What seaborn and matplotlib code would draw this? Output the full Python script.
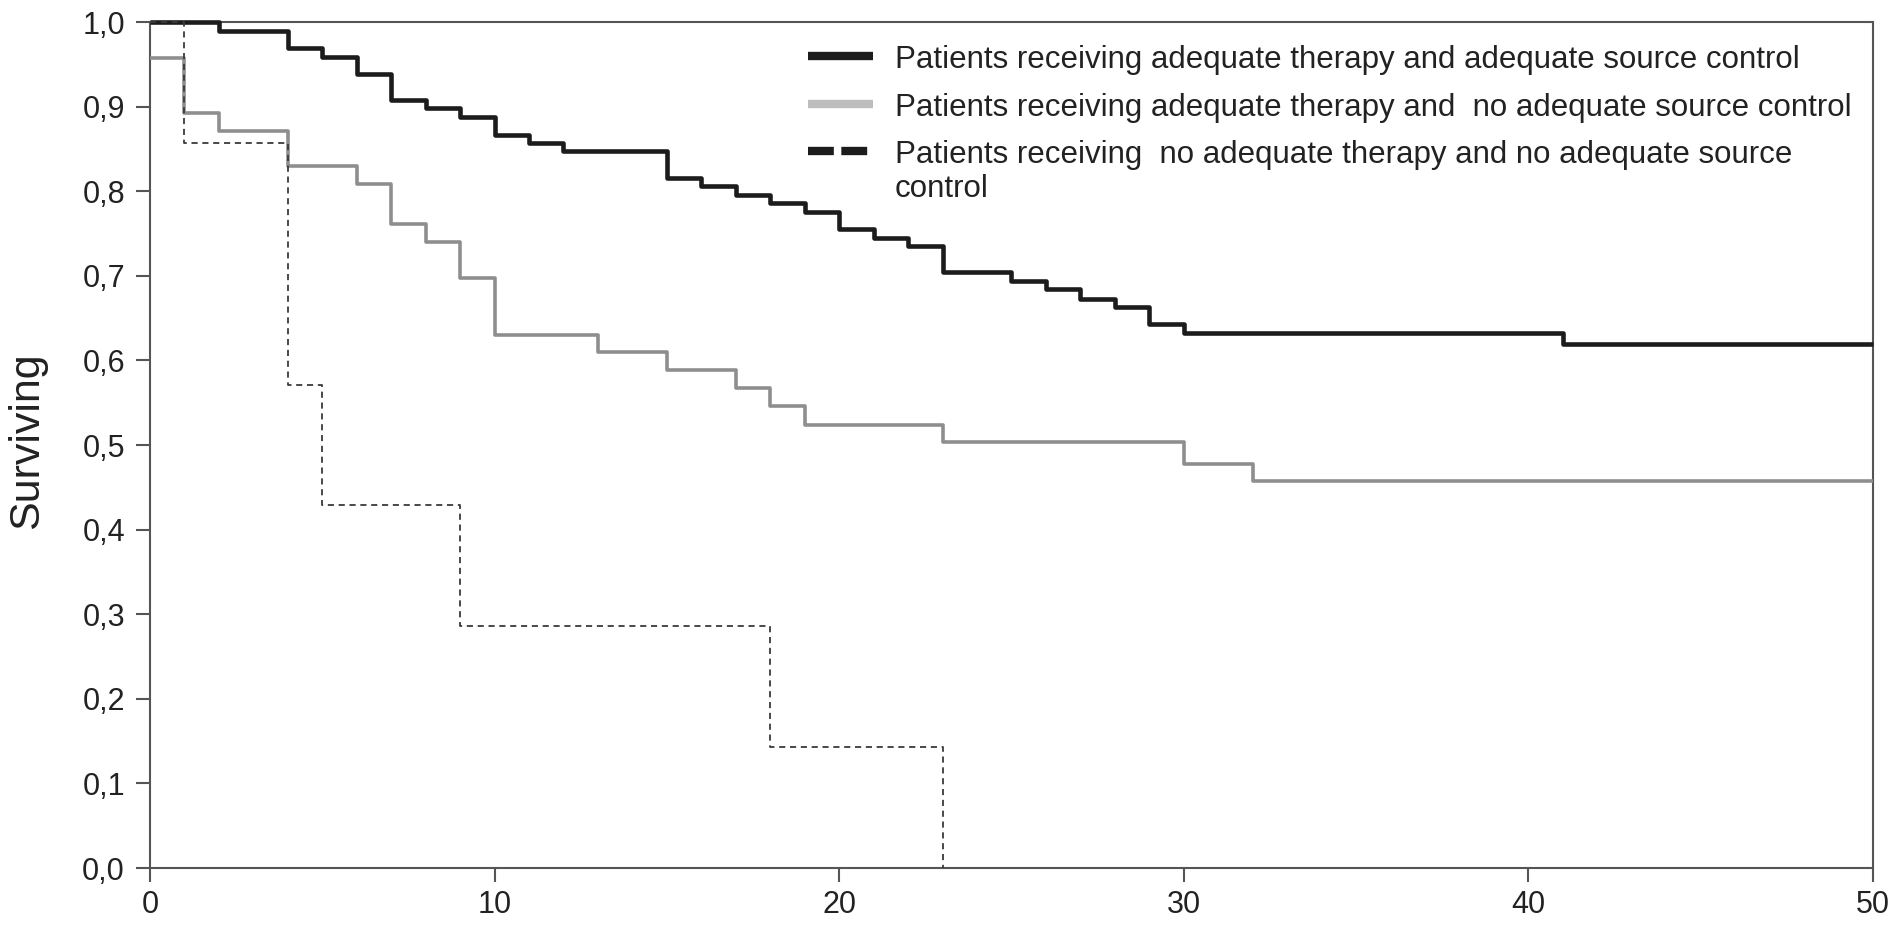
import matplotlib
matplotlib.use("Agg")
import matplotlib.pyplot as plt
from matplotlib.lines import Line2D
from matplotlib.offsetbox import HPacker
from matplotlib.ticker import FuncFormatter
import pandas as pd
import seaborn as sns

# Kaplan-Meier survival estimates, time in days
time_adequate_both = [0, 2, 4, 5, 6, 7, 8, 9, 10, 11, 12, 15, 16, 17, 18, 19, 20,
                      21, 22, 23, 25, 26, 27, 28, 29, 30, 41, 50]
surv_adequate_both = [1.000, 0.990, 0.969, 0.959, 0.938, 0.908, 0.898, 0.888, 0.867,
                      0.857, 0.847, 0.816, 0.806, 0.796, 0.786, 0.776, 0.755, 0.745,
                      0.735, 0.704, 0.694, 0.684, 0.673, 0.663, 0.643, 0.633, 0.620,
                      0.620]

time_no_source = [0, 1, 2, 4, 6, 7, 8, 9, 10, 13, 15, 17, 18, 19, 23, 30, 32, 50]
surv_no_source = [0.957, 0.892, 0.871, 0.830, 0.808, 0.761, 0.740, 0.698, 0.630,
                  0.610, 0.589, 0.567, 0.546, 0.524, 0.503, 0.478, 0.457, 0.457]

time_neither = [0, 1, 4, 5, 9, 18, 23]
surv_neither = [1.000, 0.857, 0.571, 0.429, 0.286, 0.143, 0.000]

group_labels = [
    "Patients receiving adequate therapy and adequate source control",
    "Patients receiving adequate therapy and  no adequate source control",
    "Patients receiving  no adequate therapy and no adequate source\ncontrol",
]

x_ticks = [0, 10, 20, 30, 40, 50]
y_ticks = [0.0, 0.1, 0.2, 0.3, 0.4, 0.5, 0.6, 0.7, 0.8, 0.9, 1.0]

sns.set_style("ticks")
plt.rcParams["font.family"] = ["Liberation Sans", "DejaVu Sans"]
plt.rcParams["text.color"] = "#222222"

fig = plt.figure(figsize=(18.93, 9.38), dpi=100)
ax = fig.add_axes([0.0792, 0.0746, 0.9102, 0.9019])

curves = [
    (time_adequate_both, surv_adequate_both, "#1c1c1c", 3.3, "-"),
    (time_no_source, surv_no_source, "#8e8e8e", 2.6, "-"),
    (time_neither, surv_neither, "#3a3a3a", 1.3, (0, (3.4, 2.6))),
]
for (t, s, color, lw, ls), label in zip(curves, group_labels):
    df = pd.DataFrame({"time": t, "surv": s})
    sns.lineplot(data=df, x="time", y="surv", ax=ax, estimator=None, sort=False,
                 drawstyle="steps-post", color=color, linewidth=lw, linestyle=ls,
                 solid_capstyle="butt", dash_capstyle="butt",
                 clip_on=False, legend=False, zorder=3)

ax.set_xlim(0, 50)
ax.set_ylim(0, 1.0)
ax.set_xticks(x_ticks)
ax.set_yticks(y_ticks)
ax.yaxis.set_major_formatter(FuncFormatter(lambda v, _: f"{v:.1f}".replace(".", ",")))
ax.set_xlabel("")
ax.set_ylabel("Surviving", fontsize=31, color="#222222")
ax.yaxis.set_label_coords(-0.06, 0.505)

for side in ["left", "bottom", "top", "right"]:
    ax.spines[side].set_visible(True)
    ax.spines[side].set_color("#555555")
    ax.spines[side].set_linewidth(1.5)
ax.tick_params(axis="both", which="major", direction="out", length=10, width=1.5,
               color="#555555", labelcolor="#222222", labelsize=22)
ax.tick_params(axis="y", pad=8)
ax.tick_params(axis="x", pad=6)

# Legend with thick keys
handles = [
    Line2D([], [], color="#1c1c1c", linewidth=6, solid_capstyle="butt"),
    Line2D([], [], color="#bdbdbd", linewidth=6, solid_capstyle="butt"),
    Line2D([], [], color="#1c1c1c", linewidth=6, linestyle=(0, (3.1, 0.9)),
           dash_capstyle="butt"),
]
leg = ax.legend(handles, group_labels, loc="upper left",
                bbox_to_anchor=(0.4268, 0.9516), bbox_transform=fig.transFigure,
                frameon=False, fontsize=22.5, handlelength=2.08, handletextpad=0.7,
                labelspacing=0.55, borderpad=0, borderaxespad=0)
for packer in leg.findobj(HPacker):
    packer.align = "top"

fig.savefig("out.png", dpi=100, facecolor="white")
